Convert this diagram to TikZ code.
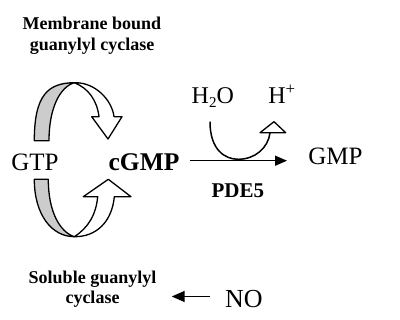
\documentclass[tikz,border=0pt]{standalone}
\usepackage{fontspec}
\setmainfont{Liberation Serif}
\usetikzlibrary{arrows.meta}
\begin{document}
\begin{tikzpicture}[x=1pt,y=-1pt,
  txt/.style={inner sep=0pt,outer sep=0pt,anchor=base},
  ribbon/.style={draw=black,line width=1.3pt,line join=round},
  back/.style={ribbon,fill=black!20},
  front/.style={ribbon,fill=white},
  conn/.style={line width=1.5pt},
]
\useasboundingbox (0,0) rectangle (400,320);
% texts
\node[inner sep=0pt,align=center,font=\fontsize{18}{21}\selectfont\bfseries] (mbgc) at (92,36) {Membrane bound\\guanylyl cyclase};
\node[inner sep=0pt,align=center,font=\fontsize{18}{20}\selectfont\bfseries] (sgc) at (92.5,289) {Soluble guanylyl\\cyclase};
\node[txt,font=\fontsize{25}{28}\selectfont] (gtp) at (35,170.5) {GTP};
\node[txt,font=\fontsize{25.5}{28}\selectfont\bfseries] (cgmp) at (144,170.5) {cGMP};
\node[txt,font=\fontsize{25}{28}\selectfont] (gmp) at (335.5,165) {GMP};
\node[txt,anchor=base west,font=\fontsize{24}{26}\selectfont] (h2o) at (191.7,104) {H\raisebox{-0.3ex}{\fontsize{15}{15}\selectfont 2}O};
\node[txt,anchor=base west,font=\fontsize{24}{26}\selectfont] (hp) at (268.3,104) {H\textsuperscript{+}};
\node[txt,font=\fontsize{21}{24}\selectfont\bfseries] (pde) at (237.8,198) {PDE5};
\node[txt,anchor=base west,font=\fontsize{26}{28}\selectfont] (no) at (225,308) {NO};
% upper ribbon
\draw[back] (34.3,140.7) .. controls (34.3,95) and (48,83) .. (74.3,82.7)
  .. controls (60,87) and (49,108) .. (49,140.7) -- cycle;
\draw[front] (74.3,82.7) .. controls (95,82) and (112,100) .. (114,116.7)
  -- (122,116.7) -- (108,139) -- (91.7,116.7) -- (99,116.7)
  .. controls (97,100) and (88,88) .. (74.3,82.7) -- cycle;
% lower ribbon
\draw[back] (34.3,179.3) .. controls (34.3,215) and (52,236.7) .. (74.3,236.7)
  .. controls (60,232) and (48.3,212) .. (48.3,179.3) -- cycle;
\draw[front] (74.3,236.7) .. controls (96,237) and (112,222) .. (114.3,196.7)
  -- (131,196.7) -- (108.3,179.3) -- (83.3,196.7) -- (97.7,196.7)
  .. controls (96,215) and (88,228) .. (74.3,236.7) -- cycle;
% PDE5 reaction
\coordinate (m1) at (190,160.7);
\coordinate (m2) at (287,160.7);
\draw[conn,-{Triangle[length=12pt,width=10pt]}] (m1) -- (m2);
\coordinate (w1) at (210,121.7);
\coordinate (w2) at (270,133);
\draw[conn] (w1) .. controls (210,150) and (225,159.3) .. (238.3,159.3)
  .. controls (255,159.3) and (268,148) .. (w2);
\draw[line width=1.3pt,fill=white,line join=round] (274,121.7) -- (260,132.7) -- (285.7,132.7) -- cycle;
% NO arrow
\coordinate (n1) at (210,296.5);
\coordinate (n2) at (171.7,296.5);
\draw[conn,-{Triangle[length=13pt,width=11pt]}] (n1) -- (n2);
\end{tikzpicture}
\end{document}
